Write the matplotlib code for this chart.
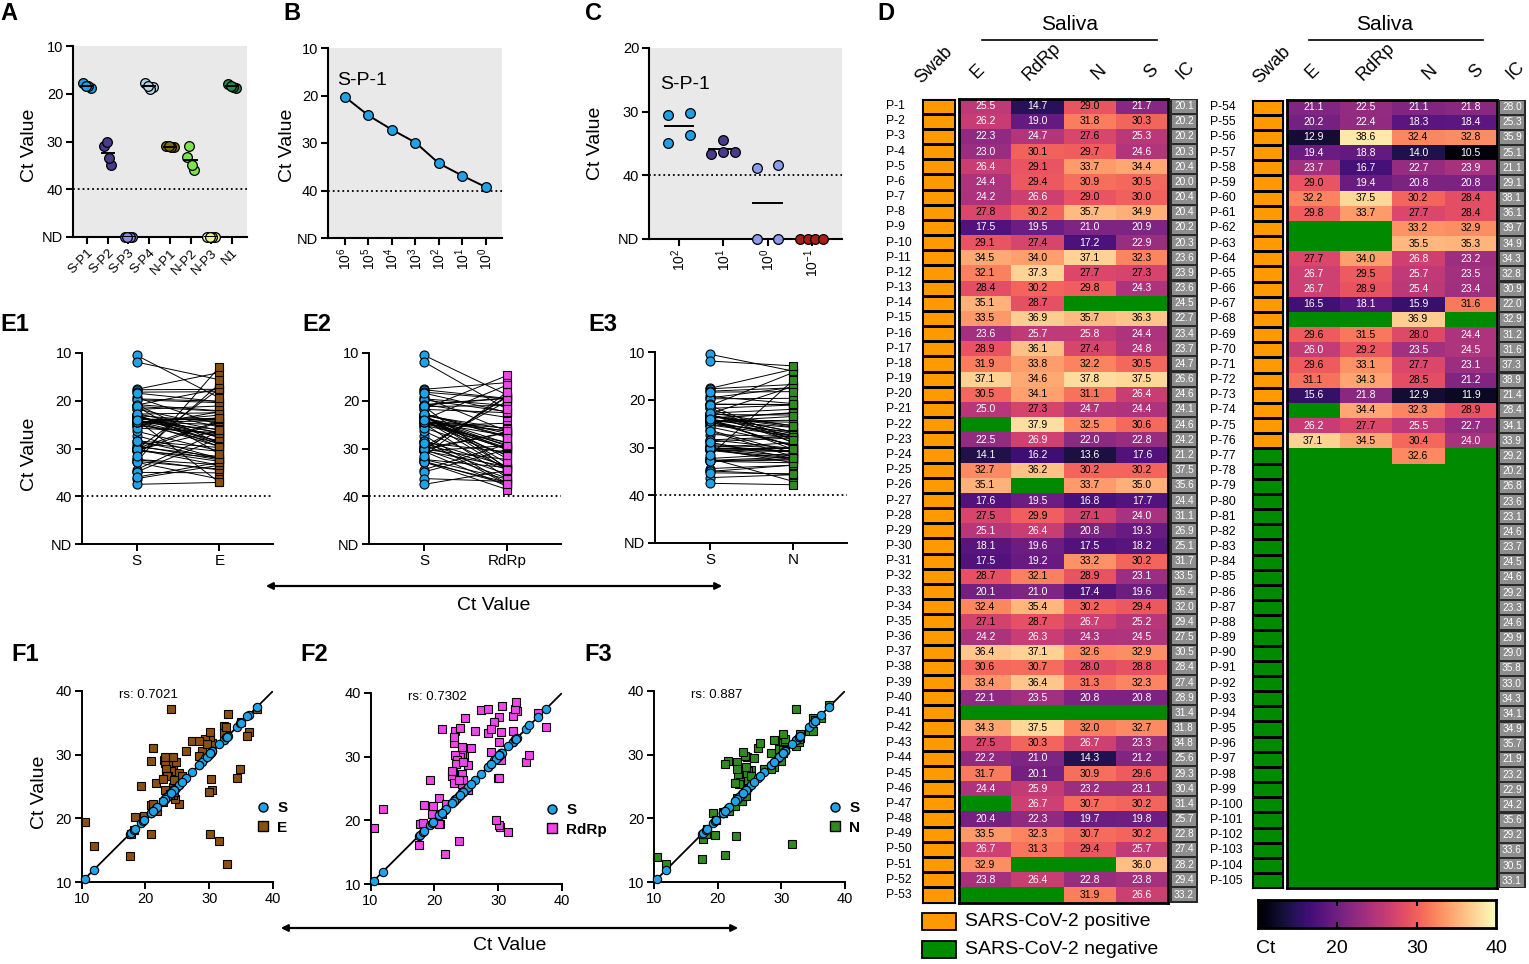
import numpy as np
import matplotlib
matplotlib.use('Agg')
import matplotlib.pyplot as plt
from matplotlib.colors import ListedColormap
from matplotlib.patches import Rectangle, FancyArrowPatch
from matplotlib.lines import Line2D
from matplotlib import transforms

plt.rcParams['font.family'] = ['Liberation Sans', 'DejaVu Sans']
plt.rcParams['mathtext.fontset'] = 'custom'
plt.rcParams['mathtext.rm'] = 'Liberation Sans'
plt.rcParams['mathtext.it'] = 'Liberation Sans:italic'
plt.rcParams['mathtext.bf'] = 'Liberation Sans:bold'

NA = np.nan
ND = 50  # plotting position of "not detected"

# ---------------- data ----------------
A_groups = ['S-P1', 'S-P2', 'S-P3', 'S-P4', 'N-P1', 'N-P2', 'N-P3', 'N1']
A_ct = [
    [17.8, 18.8, 18.4, 18.3],
    [31.0, 35.0, 33.5, 30.0],
    [NA, NA, NA, NA],
    [17.8, 18.6, 19.0, 18.3],
    [30.9, 31.1, 31.2, 31.0],
    [33.3, 36.0, 35.0, 31.0],
    [NA, NA, NA, NA],
    [18.0, 18.9, 18.5, 18.3],
]
A_colors = ['#1E9FE8', '#4A3A8C', '#8A8CEB', '#B4D2E6',
            '#7D6B12', '#7EE24C', '#E9F28E', '#1E8B4B']

B_dilutions = [r'$\mathregular{10^{6}}$', r'$\mathregular{10^{5}}$', r'$\mathregular{10^{4}}$',
               r'$\mathregular{10^{3}}$', r'$\mathregular{10^{2}}$', r'$\mathregular{10^{1}}$',
               r'$\mathregular{10^{0}}$']
B_ct = [20.3, 24.2, 27.2, 29.9, 34.3, 36.9, 39.3]

C_dilutions = [r'$\mathregular{10^{2}}$', r'$\mathregular{10^{1}}$', r'$\mathregular{10^{0}}$',
               r'$\mathregular{10^{-1}}$']
C_ct = [
    [30.5, 35.0, 30.2, 33.6],
    [36.6, 34.5, 36.3, 36.3],
    [38.8, NA, 38.3, NA],
    [NA, NA, NA, NA],
]
C_colors = ['#1E9FE8', '#4A3A8C', '#8A9CEB', '#A81E14']

# saliva Ct per patient P-1 ... P-105 (NA = not detected)
E_ct = [
    25.5, 26.2, 22.3, 23.0, 26.4, 24.4, 24.2, 27.8, 17.5, 29.1,
    34.5, 32.1, 28.4, 35.1, 33.5, 23.6, 28.9, 31.9, 37.1, 30.5,
    25.0, NA, 22.5, 14.1, 32.7, 35.1, 17.6, 27.5, 25.1, 18.1,
    17.5, 28.7, 20.1, 32.4, 27.1, 24.2, 36.4, 30.6, 33.4, 22.1,
    NA, 34.3, 27.5, 22.2, 31.7, 24.4, NA, 20.4, 33.5, 26.7,
    32.9, 23.8, NA, 21.1, 20.2, 12.9, 19.4, 23.7, 29.0, 32.2,
    29.8, NA, NA, 27.7, 26.7, 26.7, 16.5, NA, 29.6, 26.0,
    29.6, 31.1, 15.6, NA, 26.2, 37.1, NA, NA, NA, NA,
    NA, NA, NA, NA, NA, NA, NA, NA, NA, NA,
    NA, NA, NA, NA, NA, NA, NA, NA, NA, NA,
    NA, NA, NA, NA, NA,
]
RdRp_ct = [
    14.7, 19.0, 24.7, 30.1, 29.1, 29.4, 26.6, 30.2, 19.5, 27.4,
    34.0, 37.3, 30.2, 28.7, 36.9, 25.7, 36.1, 33.8, 34.6, 34.1,
    27.3, 37.9, 26.9, 16.2, 36.2, NA, 19.5, 29.9, 26.4, 19.6,
    19.2, 32.1, 21.0, 35.4, 28.7, 26.3, 37.1, 30.7, 36.4, 23.5,
    NA, 37.5, 30.3, 21.0, 20.1, 25.9, 26.7, 22.3, 32.3, 31.3,
    NA, 26.4, NA, 22.5, 22.4, 38.6, 18.8, 16.7, 19.4, 37.5,
    33.7, NA, NA, 34.0, 29.5, 28.9, 18.1, NA, 31.5, 29.2,
    33.1, 34.3, 21.8, 34.4, 27.7, 34.5, NA, NA, NA, NA,
    NA, NA, NA, NA, NA, NA, NA, NA, NA, NA,
    NA, NA, NA, NA, NA, NA, NA, NA, NA, NA,
    NA, NA, NA, NA, NA,
]
N_ct = [
    29.0, 31.8, 27.6, 29.7, 33.7, 30.9, 29.0, 35.7, 21.0, 17.2,
    37.1, 27.7, 29.8, NA, 35.7, 25.8, 27.4, 32.2, 37.8, 31.1,
    24.7, 32.5, 22.0, 13.6, 30.2, 33.7, 16.8, 27.1, 20.8, 17.5,
    33.2, 28.9, 17.4, 30.2, 26.7, 24.3, 32.6, 28.0, 31.3, 20.8,
    NA, 32.0, 26.7, 14.3, 30.9, 23.2, 30.7, 19.7, 30.7, 29.4,
    NA, 22.8, 31.9, 21.1, 18.3, 32.4, 14.0, 22.7, 20.8, 30.2,
    27.7, 33.2, 35.5, 26.8, 25.7, 25.4, 15.9, 36.9, 28.0, 23.5,
    27.7, 28.5, 12.9, 32.3, 25.5, 30.4, 32.6, NA, NA, NA,
    NA, NA, NA, NA, NA, NA, NA, NA, NA, NA,
    NA, NA, NA, NA, NA, NA, NA, NA, NA, NA,
    NA, NA, NA, NA, NA,
]
S_ct = [
    21.7, 30.3, 25.3, 24.6, 34.4, 30.5, 30.0, 34.9, 20.9, 22.9,
    32.3, 27.3, 24.3, NA, 36.3, 24.4, 24.8, 30.5, 37.5, 26.4,
    24.4, 30.6, 22.8, 17.6, 30.2, 35.0, 17.7, 24.0, 19.3, 18.2,
    30.2, 23.1, 19.6, 29.4, 25.2, 24.5, 32.9, 28.8, 32.3, 20.8,
    NA, 32.7, 23.3, 21.2, 29.6, 23.1, 30.2, 19.8, 30.2, 25.7,
    36.0, 23.8, 26.6, 21.8, 18.4, 32.8, 10.5, 23.9, 20.8, 28.4,
    28.4, 32.9, 35.3, 23.2, 23.5, 23.4, 31.6, NA, 24.4, 24.5,
    23.1, 21.2, 11.9, 28.9, 22.7, 24.0, NA, NA, NA, NA,
    NA, NA, NA, NA, NA, NA, NA, NA, NA, NA,
    NA, NA, NA, NA, NA, NA, NA, NA, NA, NA,
    NA, NA, NA, NA, NA,
]
IC_ct = [
    20.1, 20.2, 20.2, 20.3, 20.4, 20.0, 20.4, 20.4, 20.2, 20.3,
    23.6, 23.9, 23.6, 24.5, 22.7, 23.4, 23.7, 24.7, 26.6, 24.6,
    24.1, 24.6, 24.2, 21.2, 37.5, 35.6, 24.4, 31.1, 26.9, 25.1,
    31.7, 33.5, 26.4, 32.0, 29.4, 27.5, 30.5, 28.4, 27.4, 28.9,
    31.4, 31.8, 34.8, 25.6, 29.3, 30.4, 31.4, 25.7, 22.8, 27.4,
    28.2, 29.4, 33.2, 28.0, 25.3, 35.9, 25.1, 21.1, 29.1, 38.1,
    36.1, 39.7, 34.9, 34.3, 32.8, 30.9, 22.0, 32.9, 31.2, 31.6,
    37.3, 38.9, 21.4, 28.4, 34.1, 33.9, 29.2, 20.2, 26.8, 23.6,
    23.1, 24.6, 23.7, 24.5, 24.6, 29.2, 23.3, 24.6, 29.9, 29.0,
    35.8, 33.0, 34.3, 34.1, 34.9, 35.7, 21.9, 23.2, 22.9, 24.2,
    35.6, 29.2, 33.6, 30.5, 33.1,
]
swab_positive = [True] * 76 + [False] * 29
patients = [f'P-{i}' for i in range(1, 106)]
heat_genes = ['E', 'RdRp', 'N', 'S']
rs_values = ['0.7021', '0.7302', '0.887']

# ---------------- styling ----------------
W, H = 1529, 964
BLUE = '#1FA2E8'
ORANGE = '#FF9900'
GREEN = '#008A00'
gene_colors = {'E': '#8B5010', 'RdRp': '#F045E8', 'N': '#2E8C1E'}

fig = plt.figure(figsize=(W / 100, H / 100), dpi=100)


def px_rect(x0, y0, x1, y1):
    return [x0 / W, 1 - y1 / H, (x1 - x0) / W, (y1 - y0) / H]


def fxy(x, y):
    return (x / W, 1 - y / H)


def ftext(x, y, s, **kw):
    fig.text(x / W, 1 - y / H, s, **kw)


def style(ax, lw=1.5, size=10.5):
    for s in ['top', 'right']:
        ax.spines[s].set_visible(False)
    for s in ['left', 'bottom']:
        ax.spines[s].set_linewidth(lw)
    ax.tick_params(width=lw, length=5, labelsize=size, pad=2)


def ct_axis(ax, top):
    ax.set_ylim(ND, top)
    ticks = [t for t in (10, 20, 30, 40) if t >= top]
    ax.set_yticks(ticks + [ND])
    ax.set_yticklabels([str(t) for t in ticks] + ['ND'])
    ax.axhline(40, color='black', ls=':', lw=1.3, zorder=1)


def nd(vals):
    return [ND if np.isnan(v) else v for v in vals]


def arrow(x0, x1, y):
    fig.add_artist(FancyArrowPatch(fxy(x0, y), fxy(x1, y), arrowstyle='<|-|>',
                                   mutation_scale=10, lw=1.6, color='black',
                                   transform=fig.transFigure))


def letter(x, y, s):
    ftext(x, y, s, fontsize=17, fontweight='bold', va='top', ha='left')


# ---------------- A ----------------
ax = fig.add_axes(px_rect(73, 46, 247, 237))
ax.set_facecolor('#E9E9E9')
style(ax)
ct_axis(ax, 10)
A_offsets = [-0.18, 0.18, 0.06, -0.06]
for i, (vals, col) in enumerate(zip(A_ct, A_colors)):
    y = nd(vals)
    ax.plot([i - 0.3, i + 0.3], [np.mean(y)] * 2, color='black', lw=1.4, zorder=4)
    ax.plot([i + o for o in A_offsets], y, 'o', ms=7, mfc=col, mec='black',
            mew=0.9, zorder=3, clip_on=False)
ax.set_xlim(-0.68, 7.73)
ax.set_xticks(range(len(A_groups)))
ax.set_xticklabels(A_groups, rotation=45, ha='right', rotation_mode='anchor', fontsize=9.5)
ftext(30, 145, 'Ct Value', rotation=90, ha='center', va='center', fontsize=14)
letter(0, 2, 'A')

# ---------------- B ----------------
ax = fig.add_axes(px_rect(328, 48, 502, 238))
ax.set_facecolor('#E9E9E9')
style(ax)
ct_axis(ax, 10)
xb = np.arange(len(B_ct))
ax.plot(xb, B_ct, color='black', lw=1.4, zorder=2)
ax.plot(xb, B_ct, 'o', ms=7, mfc=BLUE, mec='black', mew=0.9, zorder=3, clip_on=False)
ax.set_xlim(-0.72, 6.68)
ax.set_xticks(xb)
ax.set_xticklabels(B_dilutions, rotation=90, fontsize=10)
ax.text(0.05, 0.83, 'S-P-1', transform=ax.transAxes, fontsize=14, va='center')
ftext(287, 145, 'Ct Value', rotation=90, ha='center', va='center', fontsize=14)
letter(283, 2, 'B')

# ---------------- C ----------------
ax = fig.add_axes(px_rect(649, 48, 842, 239))
ax.set_facecolor('#E9E9E9')
style(ax)
ct_axis(ax, 20)
C_offsets = [[-0.24, -0.24, 0.24, 0.24], [-0.27, 0.0, 0.0, 0.27],
             [-0.23, -0.23, 0.23, 0.23], [-0.26, -0.09, 0.08, 0.25]]
for i, (vals, col) in enumerate(zip(C_ct, C_colors)):
    y = nd(vals)
    ax.plot([i - 0.32, i + 0.32], [np.mean(y)] * 2, color='black', lw=1.4, zorder=2)
    ax.plot([i + o for o in C_offsets[i]], y, 'o', ms=7, mfc=col, mec='black',
            mew=0.9, zorder=3, clip_on=False)
ax.set_xlim(-0.68, 3.68)
ax.set_xticks(range(len(C_dilutions)))
ax.set_xticklabels(C_dilutions, rotation=90, fontsize=10)
ax.text(0.06, 0.81, 'S-P-1', transform=ax.transAxes, fontsize=14, va='center')
ftext(596, 143, 'Ct Value', rotation=90, ha='center', va='center', fontsize=14)
letter(585, 2, 'C')

# ---------------- E1-E3 ----------------
gene_series = {'E': E_ct, 'RdRp': RdRp_ct, 'N': N_ct}


def pairs_for(gene):
    return [(s, g) for s, g in zip(S_ct, gene_series[gene])
            if not (np.isnan(s) or np.isnan(g))]


E_boxes = [(81.6, 353, 273, 544), (369, 353, 561, 544), (655, 352, 847, 543)]
for (x0, y0, x1, y1), gene, lab in zip(E_boxes, ['E', 'RdRp', 'N'], ['E1', 'E2', 'E3']):
    ax = fig.add_axes(px_rect(x0, y0, x1, y1))
    style(ax, lw=1.4, size=10.5)
    ct_axis(ax, 10)
    pr = pairs_for(gene)
    for s, g in pr:
        ax.plot([0, 1], [s, g], color='black', lw=0.7, zorder=2)
    ax.plot([0] * len(pr), [p[0] for p in pr], 'o', ms=6.5, mfc=BLUE, mec='black',
            mew=0.8, zorder=3, clip_on=False)
    ax.plot([1] * len(pr), [p[1] for p in pr], 's', ms=6, mfc=gene_colors[gene],
            mec='black', mew=0.8, zorder=3, clip_on=False)
    ax.set_xlim(-0.666, 1.648)
    ax.set_xticks([0, 1])
    ax.set_xticklabels(['S', gene], fontsize=11)
    letter(x0 - 81 if lab == 'E1' else x0 - 67, 313, lab)
ftext(30, 454, 'Ct Value', rotation=90, ha='center', va='center', fontsize=14)
arrow(263, 725, 586)
ftext(494, 605, 'Ct Value', ha='center', va='center', fontsize=14)

# ---------------- F1-F3 ----------------
F_boxes = [(81.6, 691, 273, 882), (370.5, 693, 562, 884), (654, 691, 845, 882)]
for (x0, y0, x1, y1), gene, lab, rs in zip(F_boxes, ['E', 'RdRp', 'N'],
                                          ['F1', 'F2', 'F3'], rs_values):
    ax = fig.add_axes(px_rect(x0, y0, x1, y1))
    style(ax, lw=1.4, size=10.5)
    pr = pairs_for(gene)
    sx = [p[0] for p in pr]
    gy = [p[1] for p in pr]
    ax.axline((10, 10), slope=1, color='black', lw=1.3, zorder=1)
    ax.plot(sx, gy, 's', ms=6, mfc=gene_colors[gene], mec='black', mew=0.8,
            zorder=2, clip_on=False)
    ax.plot(sx, sx, 'o', ms=6, mfc=BLUE, mec='black', mew=0.8, zorder=3, clip_on=False)
    ax.set_xlim(10, 40)
    ax.set_ylim(10, 40)
    ax.set_xticks([10, 20, 30, 40])
    ax.set_yticks([10, 20, 30, 40])
    ax.text(15.8, 39.3, f'rs: {rs}', fontsize=9.5, va='center')
    handles = [Line2D([], [], marker='o', ls='', ms=6.5, mfc=BLUE, mec='black'),
               Line2D([], [], marker='s', ls='', ms=6.5, mfc=gene_colors[gene], mec='black')]
    leg = ax.legend(handles, ['S', gene], loc='center left', bbox_to_anchor=(0.87, 0.335),
                    frameon=False, handlelength=1.0, handletextpad=0.4, borderpad=0,
                    labelspacing=0.35, prop={'size': 11, 'weight': 'bold'})
    leg.set_clip_on(False)
    letter(x0 - 70 if lab != 'F1' else 11, 643, lab)
ftext(39, 792, 'Ct Value', rotation=90, ha='center', va='center', fontsize=14)
arrow(278, 741, 928)
ftext(510, 946, 'Ct Value', ha='center', va='center', fontsize=14)

# ---------------- D heatmap ----------------
letter(877, 2, 'D')
ROW_H = 15.17
heat_cmap = plt.get_cmap('magma').copy()
heat_cmap.set_bad(GREEN)
swab_cmap = ListedColormap([GREEN, ORANGE])

blocks = [
    dict(rows=range(0, 53), top=98.5, lab=886, swab=(922, 955), heat=(959, 1168), ic=(1170, 1198),
         headers=[('Swab', 934, 65), ('E', 978, 72), ('RdRp', 1042, 62), ('N', 1099, 72),
                  ('S', 1151, 72), ('IC', 1186, 70)],
         saliva=(1070, 25, 982, 1157)),
    dict(rows=range(53, 105), top=99.5, lab=1210, swab=(1252, 1283), heat=(1287, 1497), ic=(1498, 1526),
         headers=[('Swab', 1272, 65), ('E', 1313, 72), ('RdRp', 1376, 62), ('N', 1430, 72),
                  ('S', 1476, 72), ('IC', 1516, 70)],
         saliva=(1385, 25, 1309, 1483)),
]

for b in blocks:
    rows = list(b['rows'])
    n = len(rows)
    bottom = b['top'] + n * ROW_H

    axs = fig.add_axes(px_rect(b['swab'][0], b['top'], b['swab'][1], bottom))
    sw = np.array([[1 if swab_positive[r] else 0] for r in rows])
    axs.pcolormesh(sw, cmap=swab_cmap, vmin=0, vmax=1, edgecolors='black', linewidth=0.8)
    axs.set_xlim(0, 1)
    axs.set_ylim(n, 0)
    axs.set_xticks([])
    axs.set_yticks([])
    for sp in axs.spines.values():
        sp.set_linewidth(0.8)
    lab_tr = transforms.blended_transform_factory(fig.transFigure, axs.transData)
    for i, r in enumerate(rows):
        axs.text(b['lab'] / W, i + 0.5, patients[r], transform=lab_tr, fontsize=8.7,
                 ha='left', va='center')

    axh = fig.add_axes(px_rect(b['heat'][0], b['top'], b['heat'][1], bottom))
    M = np.array([[gene_series.get(g, S_ct)[r] for g in heat_genes] for r in rows])
    axh.pcolormesh(np.ma.masked_invalid(M), cmap=heat_cmap, vmin=10, vmax=40)
    axh.set_xlim(0, 4)
    axh.set_ylim(n, 0)
    axh.set_xticks([])
    axh.set_yticks([])
    for sp in axh.spines.values():
        sp.set_linewidth(2)
    for i in range(n):
        for j in range(4):
            v = M[i, j]
            if not np.isnan(v):
                axh.text(j + 0.5, i + 0.5, f'{v:.1f}', ha='center', va='center', fontsize=7.5,
                         color='white' if v < 27 else 'black')

    axi = fig.add_axes(px_rect(b['ic'][0], b['top'], b['ic'][1], bottom))
    axi.set_xlim(0, 1)
    axi.set_ylim(n, 0)
    axi.axis('off')
    axi.add_patch(Rectangle((0, 0), 1, n, fc='#2A2A2A', ec='none'))
    for i, r in enumerate(rows):
        axi.add_patch(Rectangle((0.08, i + 0.07), 0.84, 0.86, fc='#8E8E8E', ec='none'))
        axi.text(0.5, i + 0.5, f'{IC_ct[r]:.1f}', ha='center', va='center', fontsize=7.3,
                 color='white')

    for text, x, y in b['headers']:
        ftext(x, y, text, rotation=45, ha='center', va='center', fontsize=13)
    sx, sy, lx0, lx1 = b['saliva']
    ftext(sx, sy, 'Saliva', ha='center', va='center', fontsize=15)
    fig.add_artist(Line2D([lx0 / W, lx1 / W], [1 - 40 / H] * 2, color='black', lw=1.2,
                          transform=fig.transFigure))

# legend for swab
for y0, col, txt in [(913, ORANGE, 'SARS-CoV-2 positive'), (941, GREEN, 'SARS-CoV-2 negative')]:
    fig.add_artist(Rectangle(fxy(922, y0 + 17), 34 / W, 17 / H, fc=col, ec='black', lw=1.3,
                             transform=fig.transFigure))
    ftext(965, y0 + 8.5, txt, ha='left', va='center', fontsize=14)

# colour bar
axc = fig.add_axes(px_rect(1258, 900, 1496, 928))
grad = np.linspace(10, 40, 256)[None, :]
axc.imshow(grad, cmap='magma', vmin=10, vmax=40, aspect='auto', extent=[10, 40, 0, 1])
axc.set_yticks([])
axc.set_xticks([20, 30])
axc.set_xticklabels([])
axc.tick_params(axis='x', direction='in', length=4, width=1.5, top=True, bottom=True)
for sp in axc.spines.values():
    sp.set_linewidth(2)
xtr = axc.get_xaxis_transform()
for v, s in [(11.0, 'Ct'), (20, '20'), (30, '30'), (40, '40')]:
    axc.text(v, -0.72, s, transform=xtr, ha='center', va='center', fontsize=14)

fig.savefig('out.png', dpi=100)
